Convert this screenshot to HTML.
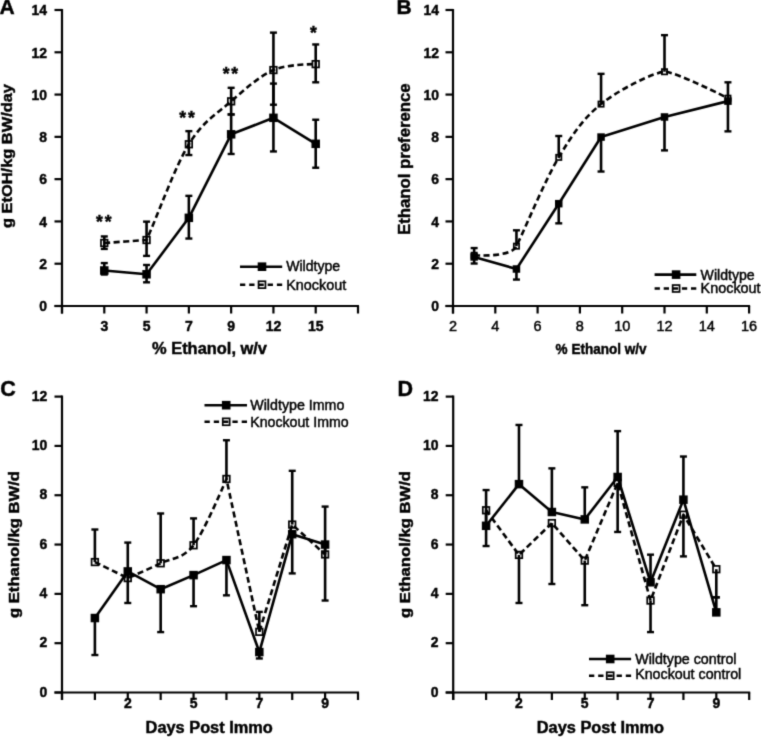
<!DOCTYPE html>
<html><head><meta charset="utf-8"><style>
html,body{margin:0;padding:0;background:#fff;width:761px;height:737px;overflow:hidden}
svg{display:block}
#w{width:761px;height:737px;filter:grayscale(1)}
text{font-family:"Liberation Sans", sans-serif;fill:#000;stroke:#000;stroke-width:0.45px}
</style></head><body><div id="w">
<svg width="761" height="737" viewBox="0 0 761 737">
<defs><filter id="bl" x="0" y="0" width="100%" height="100%" filterUnits="userSpaceOnUse"><feConvolveMatrix order="3" kernelMatrix="0.04000000000000001 0.2 0.04000000000000001 0.2 1 0.2 0.04000000000000001 0.2 0.04000000000000001" edgeMode="none"/></filter></defs>
<rect width="761" height="737" fill="#fff"/>
<g filter="url(#bl)">
<path d="M62,9 V313.5" stroke="#000" stroke-width="2.2" fill="none"/>
<path d="M54.5,306 H62" stroke="#000" stroke-width="2.2"/>
<path d="M54.5,263.71 H62" stroke="#000" stroke-width="2.2"/>
<path d="M54.5,221.43 H62" stroke="#000" stroke-width="2.2"/>
<path d="M54.5,179.14 H62" stroke="#000" stroke-width="2.2"/>
<path d="M54.5,136.86 H62" stroke="#000" stroke-width="2.2"/>
<path d="M54.5,94.57 H62" stroke="#000" stroke-width="2.2"/>
<path d="M54.5,52.29 H62" stroke="#000" stroke-width="2.2"/>
<path d="M54.5,10 H62" stroke="#000" stroke-width="2.2"/>
<text x="47" y="311.32" font-size="15" font-weight="bold" text-anchor="end" textLength="7.76" lengthAdjust="spacingAndGlyphs">0</text>
<text x="47" y="269.04" font-size="15" font-weight="bold" text-anchor="end" textLength="7.76" lengthAdjust="spacingAndGlyphs">2</text>
<text x="47" y="226.75" font-size="15" font-weight="bold" text-anchor="end" textLength="7.76" lengthAdjust="spacingAndGlyphs">4</text>
<text x="47" y="184.47" font-size="15" font-weight="bold" text-anchor="end" textLength="7.76" lengthAdjust="spacingAndGlyphs">6</text>
<text x="47" y="142.18" font-size="15" font-weight="bold" text-anchor="end" textLength="7.76" lengthAdjust="spacingAndGlyphs">8</text>
<text x="47" y="99.9" font-size="15" font-weight="bold" text-anchor="end" textLength="15.51" lengthAdjust="spacingAndGlyphs">10</text>
<text x="47" y="57.61" font-size="15" font-weight="bold" text-anchor="end" textLength="15.51" lengthAdjust="spacingAndGlyphs">12</text>
<text x="47" y="15.32" font-size="15" font-weight="bold" text-anchor="end" textLength="15.51" lengthAdjust="spacingAndGlyphs">14</text>
<path d="M54.5,306 H359" stroke="#000" stroke-width="2.2" fill="none"/>
<path d="M62,306 V313.5" stroke="#000" stroke-width="2.2"/>
<path d="M104.29,306 V313.5" stroke="#000" stroke-width="2.2"/>
<path d="M146.57,306 V313.5" stroke="#000" stroke-width="2.2"/>
<path d="M188.86,306 V313.5" stroke="#000" stroke-width="2.2"/>
<path d="M231.14,306 V313.5" stroke="#000" stroke-width="2.2"/>
<path d="M273.43,306 V313.5" stroke="#000" stroke-width="2.2"/>
<path d="M315.71,306 V313.5" stroke="#000" stroke-width="2.2"/>
<path d="M358,306 V313.5" stroke="#000" stroke-width="2.2"/>
<text x="104.29" y="331" font-size="14" font-weight="bold" text-anchor="middle">3</text>
<text x="146.57" y="331" font-size="14" font-weight="bold" text-anchor="middle">5</text>
<text x="188.86" y="331" font-size="14" font-weight="bold" text-anchor="middle">7</text>
<text x="231.14" y="331" font-size="14" font-weight="bold" text-anchor="middle">9</text>
<text x="273.43" y="331" font-size="14" font-weight="bold" text-anchor="middle">12</text>
<text x="315.71" y="331" font-size="14" font-weight="bold" text-anchor="middle">15</text>
<path d="M104.29,263.08 V274.5" stroke="#000" stroke-width="2.6"/>
<path d="M100.79,263.08 H107.79" stroke="#000" stroke-width="2.4"/>
<path d="M100.79,274.5 H107.79" stroke="#000" stroke-width="2.4"/>
<path d="M104.29,236.44 V248.91" stroke="#000" stroke-width="2.6"/>
<path d="M100.79,236.44 H107.79" stroke="#000" stroke-width="2.4"/>
<path d="M100.79,248.91 H107.79" stroke="#000" stroke-width="2.4"/>
<path d="M146.57,264.98 V282.32" stroke="#000" stroke-width="2.6"/>
<path d="M143.07,264.98 H150.07" stroke="#000" stroke-width="2.4"/>
<path d="M143.07,282.32 H150.07" stroke="#000" stroke-width="2.4"/>
<path d="M146.57,221.64 V255.89" stroke="#000" stroke-width="2.6"/>
<path d="M143.07,221.64 H150.07" stroke="#000" stroke-width="2.4"/>
<path d="M143.07,255.89 H150.07" stroke="#000" stroke-width="2.4"/>
<path d="M188.86,195.85 V238.55" stroke="#000" stroke-width="2.6"/>
<path d="M185.36,195.85 H192.36" stroke="#000" stroke-width="2.4"/>
<path d="M185.36,238.55 H192.36" stroke="#000" stroke-width="2.4"/>
<path d="M188.86,131.15 V155.04" stroke="#000" stroke-width="2.6"/>
<path d="M185.36,131.15 H192.36" stroke="#000" stroke-width="2.4"/>
<path d="M185.36,155.04 H192.36" stroke="#000" stroke-width="2.4"/>
<path d="M231.14,114.45 V153.98" stroke="#000" stroke-width="2.6"/>
<path d="M227.64,114.45 H234.64" stroke="#000" stroke-width="2.4"/>
<path d="M227.64,153.98 H234.64" stroke="#000" stroke-width="2.4"/>
<path d="M231.14,87.81 V114.45" stroke="#000" stroke-width="2.6"/>
<path d="M227.64,87.81 H234.64" stroke="#000" stroke-width="2.4"/>
<path d="M227.64,114.45 H234.64" stroke="#000" stroke-width="2.4"/>
<path d="M273.43,83.58 V151.45" stroke="#000" stroke-width="2.6"/>
<path d="M269.93,83.58 H276.93" stroke="#000" stroke-width="2.4"/>
<path d="M269.93,151.45 H276.93" stroke="#000" stroke-width="2.4"/>
<path d="M273.43,32.62 V104.72" stroke="#000" stroke-width="2.6"/>
<path d="M269.93,32.62 H276.93" stroke="#000" stroke-width="2.4"/>
<path d="M269.93,104.72 H276.93" stroke="#000" stroke-width="2.4"/>
<path d="M315.71,119.73 V167.73" stroke="#000" stroke-width="2.6"/>
<path d="M312.21,119.73 H319.21" stroke="#000" stroke-width="2.4"/>
<path d="M312.21,167.73 H319.21" stroke="#000" stroke-width="2.4"/>
<path d="M315.71,44.46 V82.31" stroke="#000" stroke-width="2.6"/>
<path d="M312.21,44.46 H319.21" stroke="#000" stroke-width="2.4"/>
<path d="M312.21,82.31 H319.21" stroke="#000" stroke-width="2.4"/>
<path d="M104.29,242.99 C104.29,242.99 146.57,240.03 146.57,240.03 C159.26,211.3 174.76,167.37 188.86,144.26 C202.95,121.14 217.05,113.71 231.14,101.34 C245.24,88.97 259.33,76.25 273.43,70.05 C287.52,63.84 315.71,64.13 315.71,64.13" stroke="#000" stroke-width="2.6" fill="none" stroke-linejoin="round" stroke-dasharray="6 3.5"/>
<path d="M104.29,270.48 L146.57,274.29 L188.86,217.83 L231.14,134.32 L273.43,117.83 L315.71,143.83" stroke="#000" stroke-width="2.6" fill="none" stroke-linejoin="round"/>
<rect x="100.99" y="239.69" width="6.6" height="6.6" fill="none" stroke="#000" stroke-width="1.7"/>
<rect x="100.04" y="266.23" width="8.5" height="8.5" fill="#000"/>
<rect x="143.27" y="236.73" width="6.6" height="6.6" fill="none" stroke="#000" stroke-width="1.7"/>
<rect x="142.32" y="270.04" width="8.5" height="8.5" fill="#000"/>
<rect x="185.56" y="140.96" width="6.6" height="6.6" fill="none" stroke="#000" stroke-width="1.7"/>
<rect x="184.61" y="213.58" width="8.5" height="8.5" fill="#000"/>
<rect x="227.84" y="98.04" width="6.6" height="6.6" fill="none" stroke="#000" stroke-width="1.7"/>
<rect x="226.89" y="130.07" width="8.5" height="8.5" fill="#000"/>
<rect x="270.13" y="66.75" width="6.6" height="6.6" fill="none" stroke="#000" stroke-width="1.7"/>
<rect x="269.18" y="113.58" width="8.5" height="8.5" fill="#000"/>
<rect x="312.41" y="60.83" width="6.6" height="6.6" fill="none" stroke="#000" stroke-width="1.7"/>
<rect x="311.46" y="139.58" width="8.5" height="8.5" fill="#000"/>
<text x="99.45" y="228.23" font-size="17.5" font-weight="bold" text-anchor="middle">*</text>
<text x="108.15" y="228.23" font-size="17.5" font-weight="bold" text-anchor="middle">*</text>
<text x="182.75" y="123.52" font-size="17.5" font-weight="bold" text-anchor="middle">*</text>
<text x="191.45" y="123.52" font-size="17.5" font-weight="bold" text-anchor="middle">*</text>
<text x="226.05" y="80.33" font-size="17.5" font-weight="bold" text-anchor="middle">*</text>
<text x="234.75" y="80.33" font-size="17.5" font-weight="bold" text-anchor="middle">*</text>
<text x="313.3" y="39.23" font-size="17.5" font-weight="bold" text-anchor="middle">*</text>
<path d="M240,266.7 H282.2" stroke="#000" stroke-width="2.6"/>
<rect x="257.7" y="262.4" width="8.6" height="8.6" fill="#000"/>
<text x="286.2" y="271.3" font-size="14" font-weight="normal" text-anchor="start" textLength="54" lengthAdjust="spacingAndGlyphs">Wildtype</text>
<path d="M240,284.7 H282.2" stroke="#000" stroke-width="2.6" stroke-dasharray="5.3 3.92"/>
<rect x="258.55" y="281.25" width="6.9" height="6.9" fill="none" stroke="#000" stroke-width="1.7"/>
<text x="286.2" y="289.7" font-size="14" font-weight="normal" text-anchor="start" textLength="60" lengthAdjust="spacingAndGlyphs">Knockout</text>
<text x="152" y="354.3" font-size="16" font-weight="bold" text-anchor="start" textLength="115" lengthAdjust="spacingAndGlyphs">% Ethanol, w/v</text>
<text x="11.6" y="228" font-size="15.5" font-weight="bold" text-anchor="start" textLength="144" lengthAdjust="spacingAndGlyphs" transform="rotate(-90 11.6 228)">g EtOH/kg BW/day</text>
<text x="-0.6" y="14.2" font-size="21" font-weight="bold" text-anchor="start">A</text>
<path d="M453,9 V313.5" stroke="#000" stroke-width="2.2" fill="none"/>
<path d="M445.5,306 H453" stroke="#000" stroke-width="2.2"/>
<path d="M445.5,263.71 H453" stroke="#000" stroke-width="2.2"/>
<path d="M445.5,221.43 H453" stroke="#000" stroke-width="2.2"/>
<path d="M445.5,179.14 H453" stroke="#000" stroke-width="2.2"/>
<path d="M445.5,136.86 H453" stroke="#000" stroke-width="2.2"/>
<path d="M445.5,94.57 H453" stroke="#000" stroke-width="2.2"/>
<path d="M445.5,52.29 H453" stroke="#000" stroke-width="2.2"/>
<path d="M445.5,10 H453" stroke="#000" stroke-width="2.2"/>
<text x="439" y="311.32" font-size="15" font-weight="bold" text-anchor="end" textLength="7.76" lengthAdjust="spacingAndGlyphs">0</text>
<text x="439" y="269.04" font-size="15" font-weight="bold" text-anchor="end" textLength="7.76" lengthAdjust="spacingAndGlyphs">2</text>
<text x="439" y="226.75" font-size="15" font-weight="bold" text-anchor="end" textLength="7.76" lengthAdjust="spacingAndGlyphs">4</text>
<text x="439" y="184.47" font-size="15" font-weight="bold" text-anchor="end" textLength="7.76" lengthAdjust="spacingAndGlyphs">6</text>
<text x="439" y="142.18" font-size="15" font-weight="bold" text-anchor="end" textLength="7.76" lengthAdjust="spacingAndGlyphs">8</text>
<text x="439" y="99.9" font-size="15" font-weight="bold" text-anchor="end" textLength="15.51" lengthAdjust="spacingAndGlyphs">10</text>
<text x="439" y="57.61" font-size="15" font-weight="bold" text-anchor="end" textLength="15.51" lengthAdjust="spacingAndGlyphs">12</text>
<text x="439" y="15.32" font-size="15" font-weight="bold" text-anchor="end" textLength="15.51" lengthAdjust="spacingAndGlyphs">14</text>
<path d="M445.5,306 H750.1" stroke="#000" stroke-width="2.2" fill="none"/>
<path d="M453,306 V313.5" stroke="#000" stroke-width="2.2"/>
<path d="M495.3,306 V313.5" stroke="#000" stroke-width="2.2"/>
<path d="M537.6,306 V313.5" stroke="#000" stroke-width="2.2"/>
<path d="M579.9,306 V313.5" stroke="#000" stroke-width="2.2"/>
<path d="M622.2,306 V313.5" stroke="#000" stroke-width="2.2"/>
<path d="M664.5,306 V313.5" stroke="#000" stroke-width="2.2"/>
<path d="M706.8,306 V313.5" stroke="#000" stroke-width="2.2"/>
<path d="M749.1,306 V313.5" stroke="#000" stroke-width="2.2"/>
<text x="453" y="331" font-size="14.5" font-weight="normal" text-anchor="middle">2</text>
<text x="495.3" y="331" font-size="14.5" font-weight="normal" text-anchor="middle">4</text>
<text x="537.6" y="331" font-size="14.5" font-weight="normal" text-anchor="middle">6</text>
<text x="579.9" y="331" font-size="14.5" font-weight="normal" text-anchor="middle">8</text>
<text x="622.2" y="331" font-size="14.5" font-weight="normal" text-anchor="middle">10</text>
<text x="664.5" y="331" font-size="14.5" font-weight="normal" text-anchor="middle">12</text>
<text x="706.8" y="331" font-size="14.5" font-weight="normal" text-anchor="middle">14</text>
<text x="749.1" y="331" font-size="14.5" font-weight="normal" text-anchor="middle">16</text>
<path d="M474.15,256.95 V263.5" stroke="#000" stroke-width="2.6"/>
<path d="M470.65,263.5 H477.65" stroke="#000" stroke-width="2.4"/>
<path d="M474.15,248.07 V255.26" stroke="#000" stroke-width="2.6"/>
<path d="M470.65,248.07 H477.65" stroke="#000" stroke-width="2.4"/>
<path d="M516.45,269 V279.57" stroke="#000" stroke-width="2.6"/>
<path d="M512.95,279.57 H519.95" stroke="#000" stroke-width="2.4"/>
<path d="M516.45,230.31 V246.17" stroke="#000" stroke-width="2.6"/>
<path d="M512.95,230.31 H519.95" stroke="#000" stroke-width="2.4"/>
<path d="M558.75,203.67 V223.33" stroke="#000" stroke-width="2.6"/>
<path d="M555.25,223.33 H562.25" stroke="#000" stroke-width="2.4"/>
<path d="M558.75,136.01 V157.37" stroke="#000" stroke-width="2.6"/>
<path d="M555.25,136.01 H562.25" stroke="#000" stroke-width="2.4"/>
<path d="M601.05,137.07 V171.53" stroke="#000" stroke-width="2.6"/>
<path d="M597.55,171.53 H604.55" stroke="#000" stroke-width="2.4"/>
<path d="M601.05,73.85 V104.09" stroke="#000" stroke-width="2.6"/>
<path d="M597.55,73.85 H604.55" stroke="#000" stroke-width="2.4"/>
<path d="M664.5,116.98 V150.39" stroke="#000" stroke-width="2.6"/>
<path d="M661,150.39 H668" stroke="#000" stroke-width="2.4"/>
<path d="M664.5,35.16 V71.74" stroke="#000" stroke-width="2.6"/>
<path d="M661,35.16 H668" stroke="#000" stroke-width="2.4"/>
<path d="M727.95,101.13 V131.36" stroke="#000" stroke-width="2.6"/>
<path d="M724.45,131.36 H731.45" stroke="#000" stroke-width="2.4"/>
<path d="M727.95,82.31 V98.17" stroke="#000" stroke-width="2.6"/>
<path d="M724.45,82.31 H731.45" stroke="#000" stroke-width="2.4"/>
<path d="M474.15,255.26 C474.15,255.26 510.87,257.88 516.45,246.17 C529.14,219.53 544.65,181.05 558.75,157.37 C572.85,133.69 583.42,118.36 601.05,104.09 C618.67,89.81 653.83,72.23 664.5,71.74 C674.8,71.26 727.95,98.17 727.95,98.17" stroke="#000" stroke-width="2.6" fill="none" stroke-linejoin="round" stroke-dasharray="6 3.5"/>
<path d="M474.15,256.95 L516.45,269 L558.75,203.67 L601.05,137.07 L664.5,116.98 L727.95,101.13" stroke="#000" stroke-width="2.6" fill="none" stroke-linejoin="round"/>
<rect x="471.5" y="252.61" width="5.3" height="5.3" fill="none" stroke="#000" stroke-width="1.7"/>
<rect x="470.4" y="253.2" width="7.5" height="7.5" fill="#000"/>
<rect x="513.8" y="243.52" width="5.3" height="5.3" fill="none" stroke="#000" stroke-width="1.7"/>
<rect x="512.7" y="265.25" width="7.5" height="7.5" fill="#000"/>
<rect x="556.1" y="154.72" width="5.3" height="5.3" fill="none" stroke="#000" stroke-width="1.7"/>
<rect x="555" y="199.92" width="7.5" height="7.5" fill="#000"/>
<rect x="598.4" y="101.44" width="5.3" height="5.3" fill="none" stroke="#000" stroke-width="1.7"/>
<rect x="597.3" y="133.32" width="7.5" height="7.5" fill="#000"/>
<rect x="661.85" y="69.09" width="5.3" height="5.3" fill="none" stroke="#000" stroke-width="1.7"/>
<rect x="660.75" y="113.23" width="7.5" height="7.5" fill="#000"/>
<rect x="725.3" y="95.52" width="5.3" height="5.3" fill="none" stroke="#000" stroke-width="1.7"/>
<rect x="724.2" y="97.38" width="7.5" height="7.5" fill="#000"/>
<path d="M654.6,274.6 H696.3" stroke="#000" stroke-width="2.6"/>
<rect x="671.8" y="270.3" width="8.6" height="8.6" fill="#000"/>
<text x="700.6" y="279.5" font-size="14" font-weight="normal" text-anchor="start" textLength="54" lengthAdjust="spacingAndGlyphs">Wildtype</text>
<path d="M654.6,288.5 H696.3" stroke="#000" stroke-width="2.6" stroke-dasharray="5.3 3.8"/>
<rect x="672.65" y="285.05" width="6.9" height="6.9" fill="none" stroke="#000" stroke-width="1.7"/>
<text x="700.6" y="293.4" font-size="14" font-weight="normal" text-anchor="start" textLength="60" lengthAdjust="spacingAndGlyphs">Knockout</text>
<text x="555.6" y="354.4" font-size="14.3" font-weight="bold" text-anchor="start" textLength="91" lengthAdjust="spacingAndGlyphs">% Ethanol w/v</text>
<text x="410.4" y="234.9" font-size="16" font-weight="bold" text-anchor="start" textLength="151.5" lengthAdjust="spacingAndGlyphs" transform="rotate(-90 410.4 234.9)">Ethanol preference</text>
<text x="396.6" y="14.4" font-size="21" font-weight="bold" text-anchor="start">B</text>
<path d="M62,395.6 V700" stroke="#000" stroke-width="2.2" fill="none"/>
<path d="M54.5,692.5 H62" stroke="#000" stroke-width="2.2"/>
<path d="M54.5,643.18 H62" stroke="#000" stroke-width="2.2"/>
<path d="M54.5,593.87 H62" stroke="#000" stroke-width="2.2"/>
<path d="M54.5,544.55 H62" stroke="#000" stroke-width="2.2"/>
<path d="M54.5,495.23 H62" stroke="#000" stroke-width="2.2"/>
<path d="M54.5,445.92 H62" stroke="#000" stroke-width="2.2"/>
<path d="M54.5,396.6 H62" stroke="#000" stroke-width="2.2"/>
<text x="47.2" y="696.62" font-size="15" font-weight="bold" text-anchor="end" textLength="7.76" lengthAdjust="spacingAndGlyphs">0</text>
<text x="47.2" y="647.31" font-size="15" font-weight="bold" text-anchor="end" textLength="7.76" lengthAdjust="spacingAndGlyphs">2</text>
<text x="47.2" y="597.99" font-size="15" font-weight="bold" text-anchor="end" textLength="7.76" lengthAdjust="spacingAndGlyphs">4</text>
<text x="47.2" y="548.67" font-size="15" font-weight="bold" text-anchor="end" textLength="7.76" lengthAdjust="spacingAndGlyphs">6</text>
<text x="47.2" y="499.36" font-size="15" font-weight="bold" text-anchor="end" textLength="7.76" lengthAdjust="spacingAndGlyphs">8</text>
<text x="47.2" y="450.04" font-size="15" font-weight="bold" text-anchor="end" textLength="15.51" lengthAdjust="spacingAndGlyphs">10</text>
<text x="47.2" y="400.73" font-size="15" font-weight="bold" text-anchor="end" textLength="15.51" lengthAdjust="spacingAndGlyphs">12</text>
<path d="M54.5,692.5 H359" stroke="#000" stroke-width="2.2" fill="none"/>
<path d="M62,692.5 V700" stroke="#000" stroke-width="2.2"/>
<path d="M94.89,692.5 V700" stroke="#000" stroke-width="2.2"/>
<path d="M127.78,692.5 V700" stroke="#000" stroke-width="2.2"/>
<path d="M160.67,692.5 V700" stroke="#000" stroke-width="2.2"/>
<path d="M193.56,692.5 V700" stroke="#000" stroke-width="2.2"/>
<path d="M226.44,692.5 V700" stroke="#000" stroke-width="2.2"/>
<path d="M259.33,692.5 V700" stroke="#000" stroke-width="2.2"/>
<path d="M292.22,692.5 V700" stroke="#000" stroke-width="2.2"/>
<path d="M325.11,692.5 V700" stroke="#000" stroke-width="2.2"/>
<path d="M358,692.5 V700" stroke="#000" stroke-width="2.2"/>
<text x="127.78" y="708.3" font-size="14" font-weight="bold" text-anchor="middle">2</text>
<text x="193.56" y="708.3" font-size="14" font-weight="bold" text-anchor="middle">5</text>
<text x="259.33" y="708.3" font-size="14" font-weight="bold" text-anchor="middle">7</text>
<text x="325.11" y="708.3" font-size="14" font-weight="bold" text-anchor="middle">9</text>
<path d="M94.89,618.03 V655.02" stroke="#000" stroke-width="2.6"/>
<path d="M91.39,655.02 H98.39" stroke="#000" stroke-width="2.4"/>
<path d="M94.89,529.51 V562.06" stroke="#000" stroke-width="2.6"/>
<path d="M91.39,529.51 H98.39" stroke="#000" stroke-width="2.4"/>
<path d="M127.78,571.43 V602.99" stroke="#000" stroke-width="2.6"/>
<path d="M124.28,602.99 H131.28" stroke="#000" stroke-width="2.4"/>
<path d="M127.78,542.58 V578.09" stroke="#000" stroke-width="2.6"/>
<path d="M124.28,542.58 H131.28" stroke="#000" stroke-width="2.4"/>
<path d="M160.67,589.18 V632.09" stroke="#000" stroke-width="2.6"/>
<path d="M157.17,632.09 H164.17" stroke="#000" stroke-width="2.4"/>
<path d="M160.67,513.48 V563.29" stroke="#000" stroke-width="2.6"/>
<path d="M157.17,513.48 H164.17" stroke="#000" stroke-width="2.4"/>
<path d="M193.56,575.13 V606.2" stroke="#000" stroke-width="2.6"/>
<path d="M190.06,606.2 H197.06" stroke="#000" stroke-width="2.4"/>
<path d="M193.56,518.41 V545.29" stroke="#000" stroke-width="2.6"/>
<path d="M190.06,518.41 H197.06" stroke="#000" stroke-width="2.4"/>
<path d="M226.44,560.08 V595.35" stroke="#000" stroke-width="2.6"/>
<path d="M222.94,595.35 H229.94" stroke="#000" stroke-width="2.4"/>
<path d="M226.44,440.25 V478.96" stroke="#000" stroke-width="2.6"/>
<path d="M222.94,440.25 H229.94" stroke="#000" stroke-width="2.4"/>
<path d="M259.33,652.06 V658.47" stroke="#000" stroke-width="2.6"/>
<path d="M255.83,658.47 H262.83" stroke="#000" stroke-width="2.4"/>
<path d="M259.33,611.87 V631.84" stroke="#000" stroke-width="2.6"/>
<path d="M255.83,611.87 H262.83" stroke="#000" stroke-width="2.4"/>
<path d="M292.22,534.19 V573.4" stroke="#000" stroke-width="2.6"/>
<path d="M288.72,573.4 H295.72" stroke="#000" stroke-width="2.4"/>
<path d="M292.22,470.82 V524.58" stroke="#000" stroke-width="2.6"/>
<path d="M288.72,470.82 H295.72" stroke="#000" stroke-width="2.4"/>
<path d="M325.11,544.55 V600.52" stroke="#000" stroke-width="2.6"/>
<path d="M321.61,600.52 H328.61" stroke="#000" stroke-width="2.4"/>
<path d="M325.11,506.58 V554.41" stroke="#000" stroke-width="2.6"/>
<path d="M321.61,506.58 H328.61" stroke="#000" stroke-width="2.4"/>
<path d="M94.89,562.06 C94.89,562.06 127.78,578.09 127.78,578.09 C127.78,578.09 149.7,568.76 160.67,563.29 C171.63,557.82 182.59,559.35 193.56,545.29 C204.52,531.23 226.44,478.96 226.44,478.96 C226.44,478.96 259.33,631.84 259.33,631.84 C259.33,631.84 292.22,524.58 292.22,524.58 C292.22,524.58 325.11,554.41 325.11,554.41" stroke="#000" stroke-width="2.6" fill="none" stroke-linejoin="round" stroke-dasharray="6 3.5"/>
<path d="M94.89,618.03 L127.78,571.43 L160.67,589.18 L193.56,575.13 L226.44,560.08 L259.33,652.06 L292.22,534.19 L325.11,544.55" stroke="#000" stroke-width="2.6" fill="none" stroke-linejoin="round"/>
<rect x="91.59" y="558.76" width="6.6" height="6.6" fill="none" stroke="#000" stroke-width="1.7"/>
<rect x="90.64" y="613.78" width="8.5" height="8.5" fill="#000"/>
<rect x="124.48" y="574.79" width="6.6" height="6.6" fill="none" stroke="#000" stroke-width="1.7"/>
<rect x="123.53" y="567.18" width="8.5" height="8.5" fill="#000"/>
<rect x="157.37" y="559.99" width="6.6" height="6.6" fill="none" stroke="#000" stroke-width="1.7"/>
<rect x="156.42" y="584.93" width="8.5" height="8.5" fill="#000"/>
<rect x="190.26" y="541.99" width="6.6" height="6.6" fill="none" stroke="#000" stroke-width="1.7"/>
<rect x="189.31" y="570.88" width="8.5" height="8.5" fill="#000"/>
<rect x="223.14" y="475.66" width="6.6" height="6.6" fill="none" stroke="#000" stroke-width="1.7"/>
<rect x="222.19" y="555.83" width="8.5" height="8.5" fill="#000"/>
<rect x="256.03" y="628.54" width="6.6" height="6.6" fill="none" stroke="#000" stroke-width="1.7"/>
<rect x="255.08" y="647.81" width="8.5" height="8.5" fill="#000"/>
<rect x="288.92" y="521.28" width="6.6" height="6.6" fill="none" stroke="#000" stroke-width="1.7"/>
<rect x="287.97" y="529.94" width="8.5" height="8.5" fill="#000"/>
<rect x="321.81" y="551.11" width="6.6" height="6.6" fill="none" stroke="#000" stroke-width="1.7"/>
<rect x="320.86" y="540.3" width="8.5" height="8.5" fill="#000"/>
<path d="M204.5,405.2 H247" stroke="#000" stroke-width="2.6"/>
<rect x="221.9" y="400.9" width="8.6" height="8.6" fill="#000"/>
<text x="250.3" y="410.2" font-size="14" font-weight="normal" text-anchor="start" textLength="94" lengthAdjust="spacingAndGlyphs">Wildtype Immo</text>
<path d="M204.5,421.8 H247" stroke="#000" stroke-width="2.6" stroke-dasharray="5.3 4"/>
<rect x="222.75" y="418.35" width="6.9" height="6.9" fill="none" stroke="#000" stroke-width="1.7"/>
<text x="250.3" y="426.5" font-size="14" font-weight="normal" text-anchor="start" textLength="98.3" lengthAdjust="spacingAndGlyphs">Knockout Immo</text>
<text x="145.6" y="732.6" font-size="16" font-weight="bold" text-anchor="start" textLength="127.2" lengthAdjust="spacingAndGlyphs">Days Post Immo</text>
<text x="19.2" y="618" font-size="15" font-weight="bold" text-anchor="start" textLength="147" lengthAdjust="spacingAndGlyphs" transform="rotate(-90 19.2 618)">g Ethanol/kg BW/d</text>
<text x="0.2" y="396" font-size="21.5" font-weight="bold" text-anchor="start">C</text>
<path d="M453.2,395.6 V700" stroke="#000" stroke-width="2.2" fill="none"/>
<path d="M445.7,692.5 H453.2" stroke="#000" stroke-width="2.2"/>
<path d="M445.7,643.18 H453.2" stroke="#000" stroke-width="2.2"/>
<path d="M445.7,593.87 H453.2" stroke="#000" stroke-width="2.2"/>
<path d="M445.7,544.55 H453.2" stroke="#000" stroke-width="2.2"/>
<path d="M445.7,495.23 H453.2" stroke="#000" stroke-width="2.2"/>
<path d="M445.7,445.92 H453.2" stroke="#000" stroke-width="2.2"/>
<path d="M445.7,396.6 H453.2" stroke="#000" stroke-width="2.2"/>
<text x="438.4" y="696.62" font-size="15" font-weight="bold" text-anchor="end" textLength="7.76" lengthAdjust="spacingAndGlyphs">0</text>
<text x="438.4" y="647.31" font-size="15" font-weight="bold" text-anchor="end" textLength="7.76" lengthAdjust="spacingAndGlyphs">2</text>
<text x="438.4" y="597.99" font-size="15" font-weight="bold" text-anchor="end" textLength="7.76" lengthAdjust="spacingAndGlyphs">4</text>
<text x="438.4" y="548.67" font-size="15" font-weight="bold" text-anchor="end" textLength="7.76" lengthAdjust="spacingAndGlyphs">6</text>
<text x="438.4" y="499.36" font-size="15" font-weight="bold" text-anchor="end" textLength="7.76" lengthAdjust="spacingAndGlyphs">8</text>
<text x="438.4" y="450.04" font-size="15" font-weight="bold" text-anchor="end" textLength="15.51" lengthAdjust="spacingAndGlyphs">10</text>
<text x="438.4" y="400.73" font-size="15" font-weight="bold" text-anchor="end" textLength="15.51" lengthAdjust="spacingAndGlyphs">12</text>
<path d="M445.7,692.5 H750.2" stroke="#000" stroke-width="2.2" fill="none"/>
<path d="M453.2,692.5 V700" stroke="#000" stroke-width="2.2"/>
<path d="M486.09,692.5 V700" stroke="#000" stroke-width="2.2"/>
<path d="M518.98,692.5 V700" stroke="#000" stroke-width="2.2"/>
<path d="M551.87,692.5 V700" stroke="#000" stroke-width="2.2"/>
<path d="M584.76,692.5 V700" stroke="#000" stroke-width="2.2"/>
<path d="M617.64,692.5 V700" stroke="#000" stroke-width="2.2"/>
<path d="M650.53,692.5 V700" stroke="#000" stroke-width="2.2"/>
<path d="M683.42,692.5 V700" stroke="#000" stroke-width="2.2"/>
<path d="M716.31,692.5 V700" stroke="#000" stroke-width="2.2"/>
<path d="M749.2,692.5 V700" stroke="#000" stroke-width="2.2"/>
<text x="518.98" y="708.3" font-size="14" font-weight="bold" text-anchor="middle">2</text>
<text x="584.76" y="708.3" font-size="14" font-weight="bold" text-anchor="middle">5</text>
<text x="650.53" y="708.3" font-size="14" font-weight="bold" text-anchor="middle">7</text>
<text x="716.31" y="708.3" font-size="14" font-weight="bold" text-anchor="middle">9</text>
<path d="M486.09,490.06 V525.81" stroke="#000" stroke-width="2.6"/>
<path d="M482.59,490.06 H489.59" stroke="#000" stroke-width="2.4"/>
<path d="M486.09,510.27 V546.03" stroke="#000" stroke-width="2.6"/>
<path d="M482.59,546.03 H489.59" stroke="#000" stroke-width="2.4"/>
<path d="M518.98,424.96 V484.14" stroke="#000" stroke-width="2.6"/>
<path d="M515.48,424.96 H522.48" stroke="#000" stroke-width="2.4"/>
<path d="M518.98,554.91 V602.99" stroke="#000" stroke-width="2.6"/>
<path d="M515.48,602.99 H522.48" stroke="#000" stroke-width="2.4"/>
<path d="M551.87,468.36 V512" stroke="#000" stroke-width="2.6"/>
<path d="M548.37,468.36 H555.37" stroke="#000" stroke-width="2.4"/>
<path d="M551.87,523.1 V584" stroke="#000" stroke-width="2.6"/>
<path d="M548.37,584 H555.37" stroke="#000" stroke-width="2.4"/>
<path d="M584.76,487.34 V519.4" stroke="#000" stroke-width="2.6"/>
<path d="M581.26,487.34 H588.26" stroke="#000" stroke-width="2.4"/>
<path d="M584.76,560.58 V605.21" stroke="#000" stroke-width="2.6"/>
<path d="M581.26,605.21 H588.26" stroke="#000" stroke-width="2.4"/>
<path d="M617.64,431.12 V476.99" stroke="#000" stroke-width="2.6"/>
<path d="M614.14,431.12 H621.14" stroke="#000" stroke-width="2.4"/>
<path d="M617.64,482.9 V531.97" stroke="#000" stroke-width="2.6"/>
<path d="M614.14,531.97 H621.14" stroke="#000" stroke-width="2.4"/>
<path d="M650.53,554.66 V582.28" stroke="#000" stroke-width="2.6"/>
<path d="M647.03,554.66 H654.03" stroke="#000" stroke-width="2.4"/>
<path d="M650.53,600.52 V632.09" stroke="#000" stroke-width="2.6"/>
<path d="M647.03,632.09 H654.03" stroke="#000" stroke-width="2.4"/>
<path d="M683.42,456.52 V499.67" stroke="#000" stroke-width="2.6"/>
<path d="M679.92,456.52 H686.92" stroke="#000" stroke-width="2.4"/>
<path d="M683.42,514.71 V556.39" stroke="#000" stroke-width="2.6"/>
<path d="M679.92,556.39 H686.92" stroke="#000" stroke-width="2.4"/>
<path d="M716.31,597.32 V612.36" stroke="#000" stroke-width="2.6"/>
<path d="M712.81,597.32 H719.81" stroke="#000" stroke-width="2.4"/>
<path d="M716.31,569.21 V597.32" stroke="#000" stroke-width="2.6"/>
<path d="M712.81,597.32 H719.81" stroke="#000" stroke-width="2.4"/>
<path d="M486.09,510.27 C486.09,510.27 518.98,554.91 518.98,554.91 C518.98,554.91 551.87,523.1 551.87,523.1 C551.87,523.1 584.76,560.58 584.76,560.58 C584.76,560.58 617.64,482.9 617.64,482.9 C617.64,482.9 650.53,600.52 650.53,600.52 C650.53,600.52 683.42,514.71 683.42,514.71 C683.42,514.71 716.31,569.21 716.31,569.21" stroke="#000" stroke-width="2.6" fill="none" stroke-linejoin="round" stroke-dasharray="6 3.5"/>
<path d="M486.09,525.81 L518.98,484.14 L551.87,512 L584.76,519.4 L617.64,476.99 L650.53,582.28 L683.42,499.67 L716.31,612.36" stroke="#000" stroke-width="2.6" fill="none" stroke-linejoin="round"/>
<rect x="482.79" y="506.97" width="6.6" height="6.6" fill="none" stroke="#000" stroke-width="1.7"/>
<rect x="481.84" y="521.56" width="8.5" height="8.5" fill="#000"/>
<rect x="515.68" y="551.61" width="6.6" height="6.6" fill="none" stroke="#000" stroke-width="1.7"/>
<rect x="514.73" y="479.89" width="8.5" height="8.5" fill="#000"/>
<rect x="548.57" y="519.8" width="6.6" height="6.6" fill="none" stroke="#000" stroke-width="1.7"/>
<rect x="547.62" y="507.75" width="8.5" height="8.5" fill="#000"/>
<rect x="581.46" y="557.28" width="6.6" height="6.6" fill="none" stroke="#000" stroke-width="1.7"/>
<rect x="580.51" y="515.15" width="8.5" height="8.5" fill="#000"/>
<rect x="614.34" y="479.6" width="6.6" height="6.6" fill="none" stroke="#000" stroke-width="1.7"/>
<rect x="613.39" y="472.74" width="8.5" height="8.5" fill="#000"/>
<rect x="647.23" y="597.22" width="6.6" height="6.6" fill="none" stroke="#000" stroke-width="1.7"/>
<rect x="646.28" y="578.03" width="8.5" height="8.5" fill="#000"/>
<rect x="680.12" y="511.41" width="6.6" height="6.6" fill="none" stroke="#000" stroke-width="1.7"/>
<rect x="679.17" y="495.42" width="8.5" height="8.5" fill="#000"/>
<rect x="713.01" y="565.91" width="6.6" height="6.6" fill="none" stroke="#000" stroke-width="1.7"/>
<rect x="712.06" y="608.11" width="8.5" height="8.5" fill="#000"/>
<path d="M589,659 H631.1" stroke="#000" stroke-width="2.6"/>
<rect x="605.9" y="654.7" width="8.6" height="8.6" fill="#000"/>
<text x="635.2" y="663.8" font-size="14" font-weight="normal" text-anchor="start" textLength="101.3" lengthAdjust="spacingAndGlyphs">Wildtype control</text>
<path d="M589,675.7 H631.1" stroke="#000" stroke-width="2.6" stroke-dasharray="5.3 3.9"/>
<rect x="606.75" y="672.25" width="6.9" height="6.9" fill="none" stroke="#000" stroke-width="1.7"/>
<text x="635.2" y="679.2" font-size="14" font-weight="normal" text-anchor="start" textLength="106.1" lengthAdjust="spacingAndGlyphs">Knockout control</text>
<text x="536.8" y="732.6" font-size="16" font-weight="bold" text-anchor="start" textLength="127.2" lengthAdjust="spacingAndGlyphs">Days Post Immo</text>
<text x="410.4" y="618" font-size="15" font-weight="bold" text-anchor="start" textLength="147" lengthAdjust="spacingAndGlyphs" transform="rotate(-90 410.4 618)">g Ethanol/kg BW/d</text>
<text x="397.6" y="396" font-size="21.5" font-weight="bold" text-anchor="start">D</text>
</g>
</svg></div>
</body></html>
